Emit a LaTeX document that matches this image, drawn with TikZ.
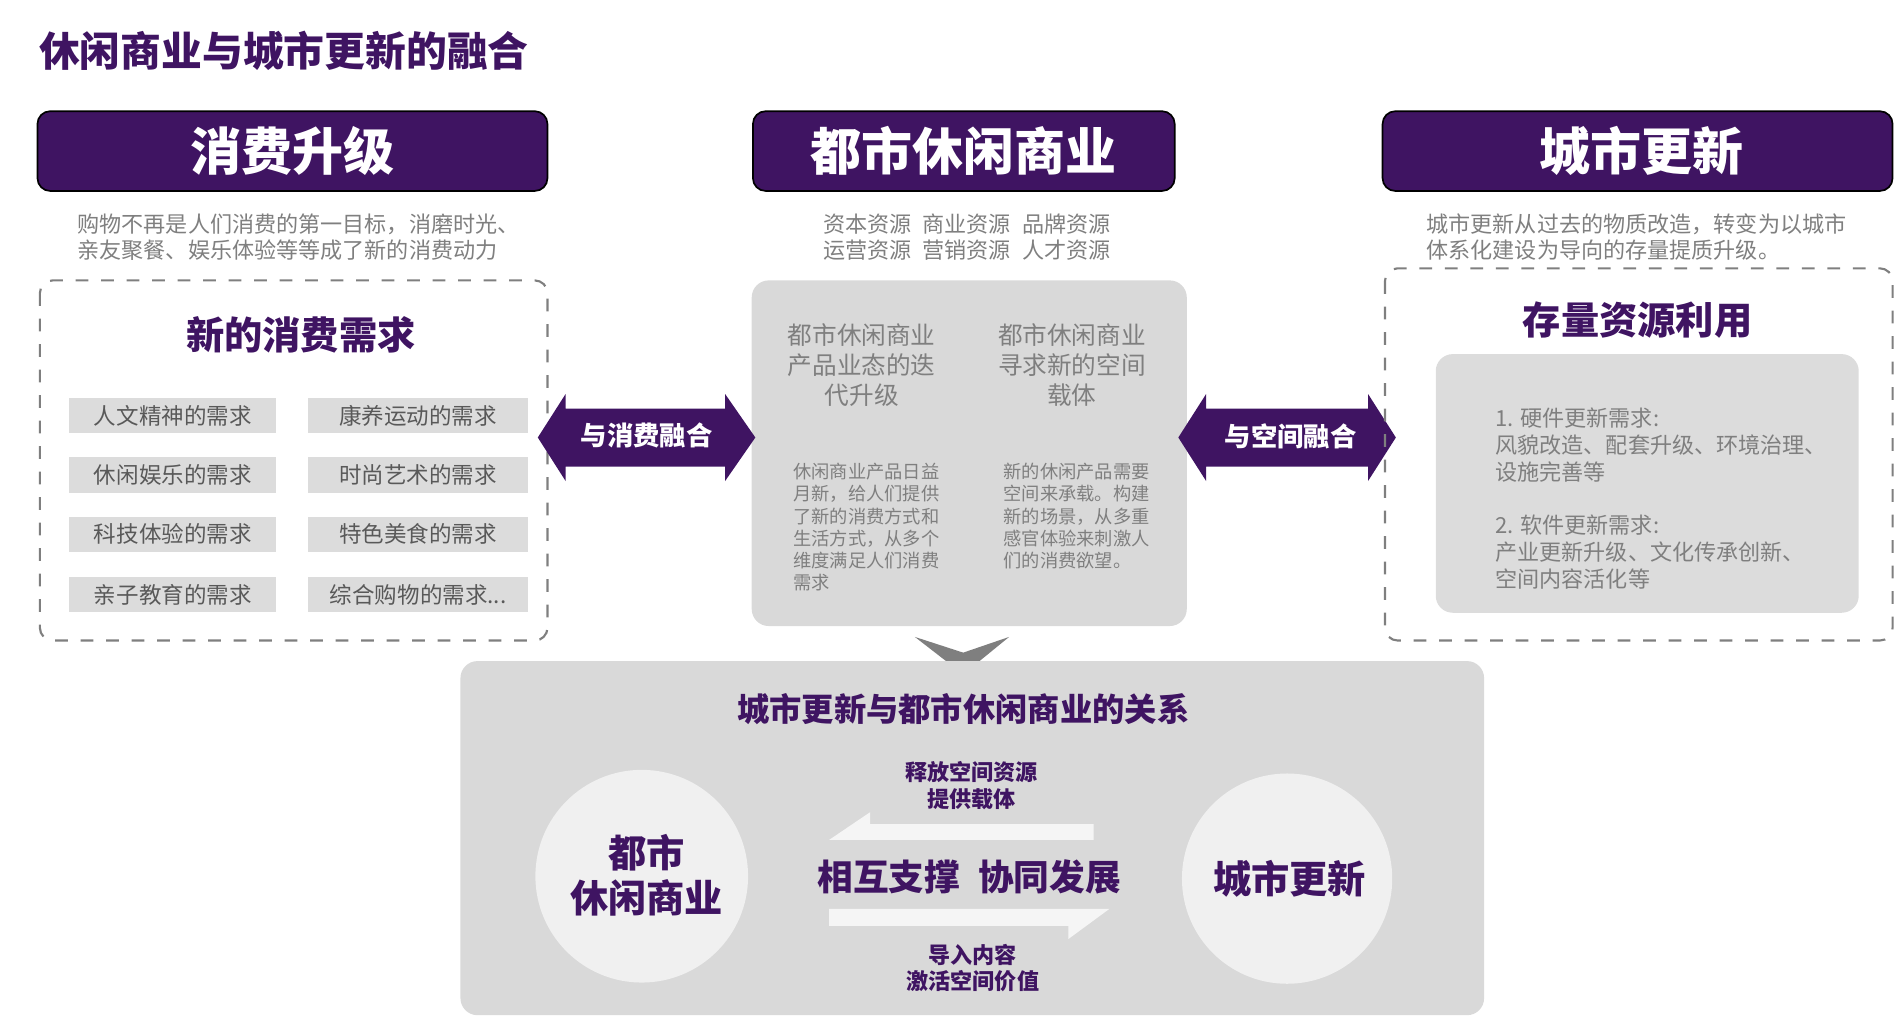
\documentclass[tikz,border=0pt]{standalone}
\usepackage{fontspec}
\setmainfont{Noto Sans CJK SC}
\definecolor{pur}{HTML}{3F1462}
\definecolor{gbox}{HTML}{D9D9D9}
\definecolor{tag}{HTML}{DCDCDC}
\definecolor{gtxt}{HTML}{7F7F7F}
\definecolor{dtxt}{HTML}{595959}
\def\lastbtag{综合购物的需求...}
\tikzset{
 hdr/.style={fill=pur,rounded corners=3pt,inner sep=0},
 hdrt/.style={text=white,font=\bfseries\fontsize{12}{14}\selectfont},
 tagbox/.style={fill=tag,minimum height=0.29cm,inner sep=0,text=dtxt,font=\fontsize{5.3}{6}\selectfont},
 dashbox/.style={draw=gtxt,dashed,rounded corners=3pt,line width=0.5pt},
 sub/.style={text=gtxt,font=\fontsize{5.2}{6.2}\selectfont,align=left},
 ptitle/.style={text=pur,font=\bfseries\fontsize{9}{11}\selectfont},
 small/.style={text=gtxt,font=\fontsize{4.3}{5.2}\selectfont,align=left,anchor=north west},
 arr/.style={fill=pur},
}
\begin{document}
\begin{tikzpicture}[x=0.01cm,y=-0.01cm]
\useasboundingbox (0,0) rectangle (1568,841);
\node[anchor=west,text=pur,font=\bfseries\fontsize{9.6}{11}\selectfont] (title) at (20,42) {休闲商业与城市更新的融合};
% headers
\draw[hdr] (31,92) rectangle (453,158); \node[hdrt] (h1) at (242,125) {消费升级};
\draw[hdr] (623,92) rectangle (972,158); \node[hdrt] (h2) at (797,125) {都市休闲商业};
\draw[hdr] (1144,92) rectangle (1566,158); \node[hdrt] (h3) at (1358,125) {城市更新};
\node[sub] (s1) at (247,196) {购物不再是人们消费的第一目标，消磨时光、\\亲友聚餐、娱乐体验等等成了新的消费动力};
\node[sub,align=center] (s2) at (800,196) {资本资源\enspace 商业资源\enspace 品牌资源\\运营资源\enspace 营销资源\enspace 人才资源};
\node[sub,anchor=west] (s3) at (1168,196) {城市更新从过去的物质改造，转变为以城市\\体系化建设为导向的存量提质升级。};
% left box
\draw[dashbox] (33,232) rectangle (453,530);
\node[ptitle] (t1) at (249,277) {新的消费需求};
\foreach \y/\a/\b [count=\i] in {344/人文精神的需求/康养运动的需求,393/休闲娱乐的需求/时尚艺术的需求,442/科技体验的需求/特色美食的需求,492/亲子教育的需求/\lastbtag}{
 \node[tagbox,minimum width=1.71cm] (la\i) at (143,\y) {\a};
 \node[tagbox,minimum width=1.82cm] (lb\i) at (346,\y) {\b};
}
% middle box
\fill[gbox,rounded corners=4pt] (622,232) rectangle (982,518);
\node[text=gtxt,font=\fontsize{5.8}{7}\selectfont,align=center] (m1) at (713,302) {都市休闲商业\\产品业态的迭\\代升级};
\node[text=gtxt,font=\fontsize{5.8}{7}\selectfont,align=center] (m2) at (887,302) {都市休闲商业\\寻求新的空间\\载体};
\node[small] (m3) at (644,371) {休闲商业产品日益\\月新，给人们提供\\了新的消费方式和\\生活方式，从多个\\维度满足人们消费\\需求};
\node[small] (m4) at (818,371) {新的休闲产品需要\\空间来承载。构建\\新的场景，从多重\\感官体验来刺激人\\们的消费欲望。};
% double arrows
\fill[arr] (445,362)--(468,326)--(468,338)--(600,338)--(600,326)--(625,362)--(600,398)--(600,386)--(468,386)--(468,398)--cycle;
\node[text=white,font=\bfseries\fontsize{6.2}{7}\selectfont] (a1) at (535,360) {与消费融合};
\fill[arr] (975,362)--(998,326)--(998,338)--(1132,338)--(1132,326)--(1155,362)--(1132,398)--(1132,386)--(998,386)--(998,398)--cycle;
\node[text=white,font=\bfseries\fontsize{6.2}{7}\selectfont] (a2) at (1068,361) {与空间融合};
% right box
\draw[dashbox] (1146,222) rectangle (1566,530);
\node[ptitle] (t3) at (1355,265) {存量资源利用};
\fill[tag,rounded corners=4pt] (1188,293) rectangle (1538,507);
\node[sub,anchor=north west,font=\fontsize{5.2}{6.4}\selectfont] (r1) at (1225,325) {1. 硬件更新需求:\\风貌改造、配套升级、环境治理、\\设施完善等\\[6pt]2. 软件更新需求:\\产业更新升级、文化传承创新、\\空间内容活化等};
% chevron
\fill[gtxt] (757,527)--(797,540)--(835,527)--(797,558)--cycle;
% bottom box
\fill[gbox,rounded corners=4pt] (381,547) rectangle (1228,840);
\node[text=pur,font=\bfseries\fontsize{7.6}{9}\selectfont] (bt) at (797,587) {城市更新与都市休闲商业的关系};
\fill[white!94!black] (531,725) circle (88);
\fill[white!94!black] (1065,727) circle (87);
\node[text=pur,font=\bfseries\fontsize{9}{10.5}\selectfont,align=center] (c1) at (535,724) {都市\\休闲商业};
\node[text=pur,font=\bfseries\fontsize{9}{10.5}\selectfont] (c2) at (1067,727) {城市更新};
\node[text=pur,font=\bfseries\fontsize{5.2}{6.3}\selectfont,align=center] (u1) at (804,650) {释放空间资源\\提供载体};
\node[text=pur,font=\bfseries\fontsize{8.4}{10}\selectfont] (mid) at (802,726) {相互支撑\enspace 协同发展};
\node[text=pur,font=\bfseries\fontsize{5.2}{6.3}\selectfont,align=center] (u2) at (805,801) {导入内容\\激活空间价值};
\fill[white!96!black] (686,695)--(720,672)--(720,682)--(905,682)--(905,695)--cycle;
\fill[white!96!black] (686,752)--(918,752)--(884,777)--(884,766)--(686,766)--cycle;
\end{tikzpicture}
\end{document}
